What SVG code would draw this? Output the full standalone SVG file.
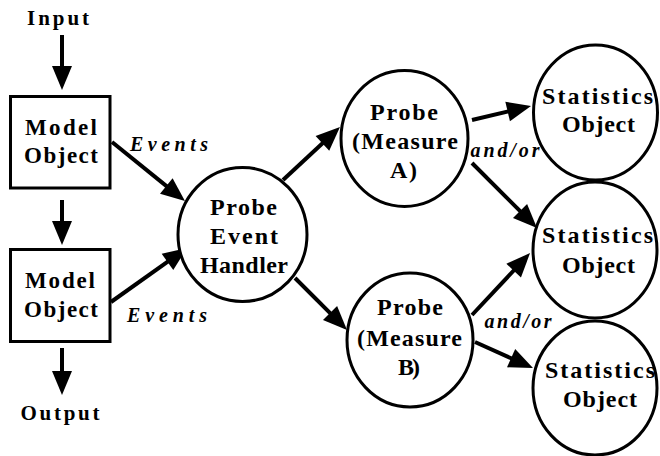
<svg xmlns="http://www.w3.org/2000/svg" width="660" height="456" viewBox="0 0 660 456">
  <style>
    .shape { fill: #fff; stroke: #000; stroke-width: 3; }
    .lbl { font-family: 'Liberation Serif', serif; font-weight: 700; fill: #000; text-anchor: middle; }
    .io { font-size: 21px; }
    .box { font-size: 23px; }
    .node { font-size: 24px; }
    .edge { font-size: 20px; font-style: italic; }
    .conn { stroke: #000; stroke-width: 4; fill: none; marker-end: url(#head); }
  </style>
  <defs>
    <marker id="head" markerUnits="userSpaceOnUse" markerWidth="24" markerHeight="20" refX="9" refY="10" orient="auto" overflow="visible">
      <path d="M0,0 L24,10 L0,20 Z" fill="#000"/>
    </marker>
  </defs>
  <rect width="660" height="456" fill="#fff"/>

  <g id="connectors">
    <line class="conn" x1="62" y1="35" x2="62" y2="75"/>
    <line class="conn" x1="62" y1="200" x2="62" y2="230"/>
    <line class="conn" x1="62" y1="348" x2="62" y2="380"/>
    <line class="conn" x1="112" y1="142" x2="173.3" y2="191.6"/>
    <line class="conn" x1="111" y1="302" x2="174.8" y2="256.7"/>
    <line class="conn" x1="283" y1="180" x2="329" y2="137.2"/>
    <line class="conn" x1="295" y1="278" x2="336.4" y2="319.4"/>
    <line class="conn" x1="472" y1="120" x2="516.4" y2="109.5"/>
    <line class="conn" x1="472" y1="163" x2="526.4" y2="217.4"/>
    <line class="conn" x1="472" y1="315" x2="519.8" y2="264"/>
    <line class="conn" x1="475" y1="342" x2="519.3" y2="361.9"/>
    <text class="lbl edge" x="169" y="151" textLength="78" lengthAdjust="spacing">Events</text>
    <text class="lbl edge" x="167" y="322" textLength="80" lengthAdjust="spacing">Events</text>
    <text class="lbl edge" x="505" y="157" textLength="69" lengthAdjust="spacing">and/or</text>
    <text class="lbl edge" x="518" y="328" textLength="67" lengthAdjust="spacing">and/or</text>
  </g>

  <g id="input">
    <text class="lbl io" x="58" y="25" textLength="62" lengthAdjust="spacing">Input</text>
  </g>
  <g id="output">
    <text class="lbl io" x="60" y="420" textLength="79" lengthAdjust="spacing">Output</text>
  </g>

  <g id="model-object-1">
    <rect class="shape" x="10.5" y="96.5" width="99.5" height="91.5"/>
    <text class="lbl box" x="61" y="135" textLength="72" lengthAdjust="spacing">Model</text>
    <text class="lbl box" x="61" y="163" textLength="74" lengthAdjust="spacing">Object</text>
  </g>
  <g id="model-object-2">
    <rect class="shape" x="10.5" y="249.5" width="99.5" height="92"/>
    <text class="lbl box" x="60" y="288" textLength="70" lengthAdjust="spacing">Model</text>
    <text class="lbl box" x="61" y="317" textLength="74" lengthAdjust="spacing">Object</text>
  </g>

  <g id="probe-event-handler">
    <ellipse class="shape" cx="242.5" cy="234.5" rx="64.5" ry="67"/>
    <text class="lbl node" x="243.5" y="215" textLength="67" lengthAdjust="spacing">Probe</text>
    <text class="lbl node" x="244" y="244" textLength="68" lengthAdjust="spacing">Event</text>
    <text class="lbl node" x="244" y="273" textLength="88" lengthAdjust="spacing">Handler</text>
  </g>

  <g id="probe-a">
    <ellipse class="shape" cx="404.5" cy="138.5" rx="63.5" ry="68"/>
    <text class="lbl node" x="404" y="120" textLength="68" lengthAdjust="spacing">Probe</text>
    <text class="lbl node" x="405" y="149" textLength="106" lengthAdjust="spacing">(Measure</text>
    <text class="lbl node" x="403.5" y="178" textLength="27" lengthAdjust="spacing">A)</text>
  </g>

  <g id="probe-b">
    <ellipse class="shape" cx="410" cy="340" rx="63" ry="67"/>
    <text class="lbl node" x="410" y="315" textLength="66" lengthAdjust="spacing">Probe</text>
    <text class="lbl node" x="409.5" y="346" textLength="105" lengthAdjust="spacing">(Measure</text>
    <text class="lbl node" x="409" y="375" textLength="22" lengthAdjust="spacing">B)</text>
  </g>

  <g id="statistics-1">
    <ellipse class="shape" cx="595.5" cy="112.5" rx="62" ry="67.5"/>
    <text class="lbl node" x="597.5" y="104" textLength="111" lengthAdjust="spacing">Statistics</text>
    <text class="lbl node" x="598.5" y="132" textLength="73" lengthAdjust="spacing">Object</text>
  </g>
  <g id="statistics-2">
    <ellipse class="shape" cx="595" cy="250" rx="62" ry="68"/>
    <text class="lbl node" x="597.5" y="243" textLength="111" lengthAdjust="spacing">Statistics</text>
    <text class="lbl node" x="598.5" y="273" textLength="73" lengthAdjust="spacing">Object</text>
  </g>
  <g id="statistics-3">
    <ellipse class="shape" cx="595" cy="388" rx="62" ry="67"/>
    <text class="lbl node" x="600" y="378" textLength="110" lengthAdjust="spacing">Statistics</text>
    <text class="lbl node" x="600" y="407" textLength="74" lengthAdjust="spacing">Object</text>
  </g>
</svg>
